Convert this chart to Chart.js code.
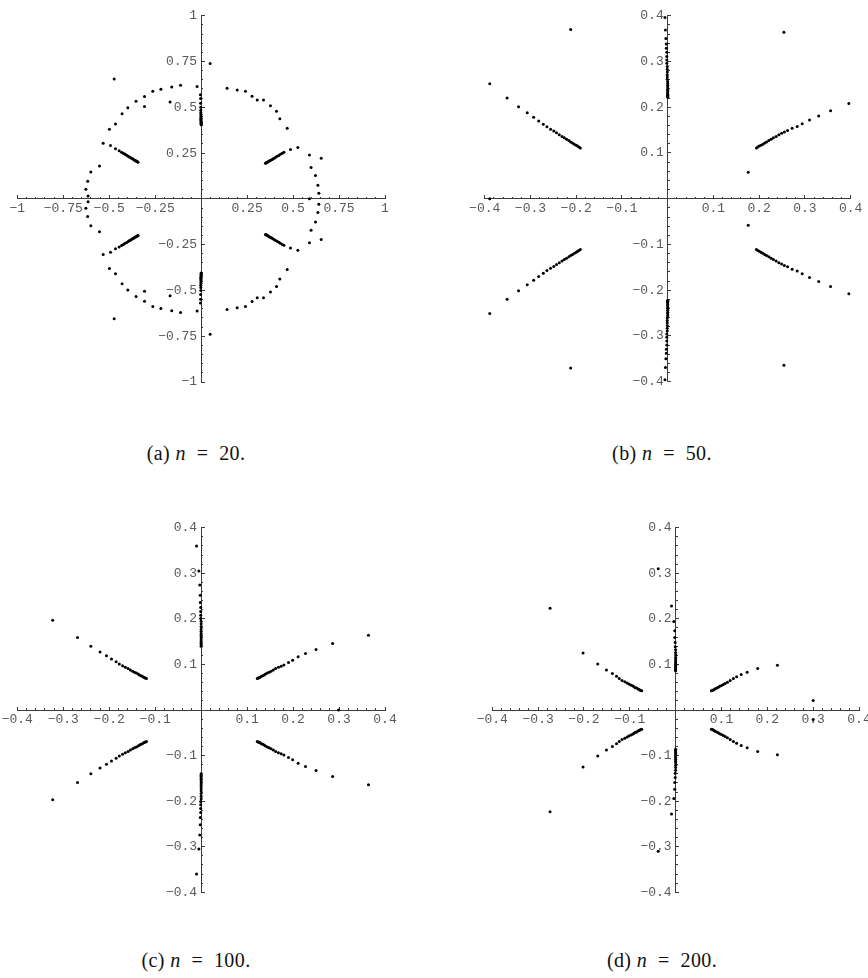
<!DOCTYPE html>
<html>
<head>
<meta charset="utf-8">
<script src="https://cdn.jsdelivr.net/npm/chart.js@4.4.1/dist/chart.umd.min.js"></script>
<style>
  body { margin: 0; background: #fff; }
  #page { position: relative; width: 868px; height: 978px; overflow: hidden; background: #fff; }
  canvas { position: absolute; }
  .caption { position: absolute; font-family: "Liberation Serif", "Times New Roman", serif; font-size: 20px; line-height: 20px; letter-spacing: 0.4px; color: #111; white-space: pre; transform: translateX(-50%); }
</style>
</head>
<body>
<div id="page">
  <canvas id="plot20" width="434" height="420" style="left:0px;top:0px"></canvas>
  <canvas id="plot50" width="434" height="420" style="left:434px;top:0px"></canvas>
  <canvas id="plot100" width="434" height="440" style="left:0px;top:480px"></canvas>
  <canvas id="plot200" width="434" height="440" style="left:434px;top:480px"></canvas>
  <div class="caption" style="left:196px;top:443px">(a) <i>n</i>  =  20.</div>
  <div class="caption" style="left:662px;top:443px">(b) <i>n</i>  =  50.</div>
  <div class="caption" style="left:196px;top:950px">(c) <i>n</i>  =  100.</div>
  <div class="caption" style="left:662px;top:950px">(d) <i>n</i>  =  200.</div>
</div>
<script>
/* tick labels of the axes */
const ticksN20 = [-1, -0.75, -0.5, -0.25, 0, 0.25, 0.5, 0.75, 1];
const ticksSmall = [-0.4, -0.3, -0.2, -0.1, 0, 0.1, 0.2, 0.3, 0.4];

const n20Upper = [
  [0.049,0.739],[-0.473,0.655],[-0.263,0.588],[-0.219,0.599],[-0.160,0.611],[-0.112,0.620],[-0.022,0.613],
  [-0.169,0.529],[-0.308,0.559],[-0.308,0.504],[-0.354,0.533],[-0.399,0.498],[-0.430,0.464],[-0.466,0.409],
  [-0.499,0.380],[-0.533,0.304],[-0.493,0.291],[-0.466,0.273],[-0.553,0.180],[-0.600,0.147],[-0.617,0.096],
  [-0.627,0.052],[-0.615,0.016],
  [0.141,0.604],[0.196,0.595],[0.241,0.588],[0.277,0.560],[0.305,0.540],[0.339,0.540],[0.377,0.508],
  [0.410,0.478],[0.428,0.438],[0.468,0.386],[0.526,0.280],[0.486,0.269],[0.450,0.254],[0.589,0.240],
  [0.653,0.222],[0.598,0.171],[0.622,0.127],[0.635,0.074],[0.640,0.030],[0.589,0.000],
  [-0.004,0.568],[-0.003,0.548],[-0.003,0.522],[-0.002,0.500],[-0.002,0.484],[-0.002,0.472],[-0.001,0.462],
  [-0.001,0.454],[-0.001,0.447],[-0.001,0.440],[-0.001,0.434],[-0.001,0.428],[0,0.423],[0,0.418],[0,0.413],
  [0,0.409],[0,0.405],
  [0.350,0.194],[0.353,0.196],[0.356,0.198],[0.360,0.200],[0.364,0.202],[0.368,0.205],[0.373,0.208],
  [0.378,0.211],[0.384,0.214],[0.390,0.218],[0.397,0.222],[0.405,0.227],[0.413,0.232],[0.422,0.237],
  [0.431,0.243],[0.441,0.249],
  [-0.343,0.200],[-0.346,0.202],[-0.349,0.204],[-0.353,0.206],[-0.357,0.208],[-0.361,0.211],[-0.366,0.214],
  [-0.371,0.217],[-0.377,0.220],[-0.383,0.224],[-0.390,0.228],[-0.397,0.233],[-0.405,0.238],[-0.414,0.243],
  [-0.423,0.249],[-0.433,0.255],[-0.446,0.263]
];
const n20Lower = [
  [0.049,-0.739],[-0.473,-0.655],[-0.263,-0.588],[-0.219,-0.599],[-0.160,-0.611],[-0.112,-0.620],[-0.022,-0.613],
  [-0.169,-0.529],[-0.308,-0.559],[-0.308,-0.504],[-0.354,-0.533],[-0.399,-0.498],[-0.430,-0.464],[-0.466,-0.409],
  [-0.499,-0.380],[-0.533,-0.304],[-0.493,-0.291],[-0.466,-0.273],[-0.553,-0.180],[-0.600,-0.147],[-0.617,-0.096],
  [-0.627,-0.052],[-0.615,-0.016],
  [0.141,-0.604],[0.196,-0.595],[0.241,-0.588],[0.277,-0.560],[0.305,-0.540],[0.339,-0.540],[0.377,-0.508],
  [0.410,-0.478],[0.428,-0.438],[0.468,-0.386],[0.526,-0.280],[0.486,-0.269],[0.450,-0.254],[0.589,-0.240],
  [0.653,-0.222],[0.598,-0.171],[0.622,-0.127],[0.635,-0.074],[0.640,-0.030],
  [-0.004,-0.568],[-0.003,-0.548],[-0.003,-0.522],[-0.002,-0.500],[-0.002,-0.484],[-0.002,-0.472],[-0.001,-0.462],
  [-0.001,-0.454],[-0.001,-0.447],[-0.001,-0.440],[-0.001,-0.434],[-0.001,-0.428],[0,-0.423],[0,-0.418],[0,-0.413],
  [0,-0.409],[0,-0.405],
  [0.350,-0.194],[0.353,-0.196],[0.356,-0.198],[0.360,-0.200],[0.364,-0.202],[0.368,-0.205],[0.373,-0.208],
  [0.378,-0.211],[0.384,-0.214],[0.390,-0.218],[0.397,-0.222],[0.405,-0.227],[0.413,-0.232],[0.422,-0.237],
  [0.431,-0.243],[0.441,-0.249],
  [-0.343,-0.200],[-0.346,-0.202],[-0.349,-0.204],[-0.353,-0.206],[-0.357,-0.208],[-0.361,-0.211],[-0.366,-0.214],
  [-0.371,-0.217],[-0.377,-0.220],[-0.383,-0.224],[-0.390,-0.228],[-0.397,-0.233],[-0.405,-0.238],[-0.414,-0.243],
  [-0.423,-0.249],[-0.433,-0.255],[-0.446,-0.263]
];

/* n = 50 */
const n50Upper = [
  [-0.212,0.370],[0.254,0.364],[-0.389,0.251],[-0.351,0.220],[-0.326,0.201],[-0.307,0.188],[-0.293,0.178],
  [-0.282,0.170],[-0.272,0.163],[-0.264,0.157],[0.396,0.208],[0.356,0.192],[0.330,0.181],[0.310,0.172],
  [0.294,0.164],[0.283,0.158],[0.272,0.154],[0.176,0.058],[-0.389,0.000],
  [-0.191,0.111],[-0.194,0.113],[-0.197,0.115],[-0.200,0.117],[-0.204,0.119],[-0.208,0.122],[-0.212,0.124],
  [-0.216,0.127],[-0.221,0.130],[-0.226,0.133],[-0.231,0.136],[-0.237,0.140],[-0.243,0.144],[-0.249,0.148],
  [-0.256,0.152],
  [0.194,0.111],[0.197,0.113],[0.200,0.115],[0.204,0.117],[0.208,0.119],[0.212,0.122],[0.216,0.124],
  [0.221,0.127],[0.226,0.130],[0.231,0.133],[0.237,0.136],[0.243,0.140],[0.249,0.143],[0.255,0.146],
  [0.262,0.149],
  [-0.006,0.396],[-0.005,0.369],[-0.004,0.350],[-0.003,0.338],[-0.003,0.329],[-0.002,0.320],[-0.002,0.311],
  [-0.002,0.303],[-0.002,0.296],[-0.001,0.289],[-0.001,0.283],[-0.001,0.277],[-0.001,0.271],[-0.001,0.266],
  [-0.001,0.261],[0,0.256],[0,0.252],[0,0.248],[0,0.244],[0,0.240],[0,0.237],[0,0.234],[0,0.231],[0,0.228],
  [0,0.226],[0,0.224],[0,0.222]
];
const n50Lower = [
  [-0.212,-0.370],[0.254,-0.364],[-0.389,-0.251],[-0.351,-0.220],[-0.326,-0.201],[-0.307,-0.188],[-0.293,-0.178],
  [-0.282,-0.170],[-0.272,-0.163],[-0.264,-0.157],[0.396,-0.208],[0.356,-0.192],[0.330,-0.181],[0.310,-0.172],
  [0.294,-0.164],[0.283,-0.158],[0.272,-0.154],[0.176,-0.058],
  [-0.191,-0.111],[-0.194,-0.113],[-0.197,-0.115],[-0.200,-0.117],[-0.204,-0.119],[-0.208,-0.122],[-0.212,-0.124],
  [-0.216,-0.127],[-0.221,-0.130],[-0.226,-0.133],[-0.231,-0.136],[-0.237,-0.140],[-0.243,-0.144],[-0.249,-0.148],
  [-0.256,-0.152],
  [0.194,-0.111],[0.197,-0.113],[0.200,-0.115],[0.204,-0.117],[0.208,-0.119],[0.212,-0.122],[0.216,-0.124],
  [0.221,-0.127],[0.226,-0.130],[0.231,-0.133],[0.237,-0.136],[0.243,-0.140],[0.249,-0.143],[0.255,-0.146],
  [0.262,-0.149],
  [-0.006,-0.396],[-0.005,-0.369],[-0.004,-0.350],[-0.003,-0.338],[-0.003,-0.329],[-0.002,-0.320],[-0.002,-0.311],
  [-0.002,-0.303],[-0.002,-0.296],[-0.001,-0.289],[-0.001,-0.283],[-0.001,-0.277],[-0.001,-0.271],[-0.001,-0.266],
  [-0.001,-0.261],[0,-0.256],[0,-0.252],[0,-0.248],[0,-0.244],[0,-0.240],[0,-0.237],[0,-0.234],[0,-0.231],[0,-0.228],
  [0,-0.226],[0,-0.224],[0,-0.222]
];

/* n = 100 */
const n100Upper = [
  [-0.323,0.197],[-0.269,0.159],[-0.240,0.140],[-0.220,0.127],[-0.206,0.119],[-0.195,0.112],[-0.185,0.106],
  [0.364,0.164],[0.286,0.146],[0.250,0.133],[0.227,0.124],[0.211,0.117],[0.199,0.109],[0.190,0.104],[0.299,0.000],
  [-0.010,0.360],[-0.005,0.305],[-0.003,0.274],[-0.002,0.252],[-0.002,0.236],[-0.001,0.225],[-0.001,0.216],
  [-0.001,0.208],[-0.001,0.201],[0,0.195],[0,0.189],[0,0.183],[0,0.178],[0,0.173],[0,0.168],[0,0.164],[0,0.160],
  [0,0.156],[0,0.152],[0,0.149],[0,0.146],[0,0.143],[0,0.140],
  [-0.119,0.069],[-0.121,0.070],[-0.123,0.071],[-0.125,0.072],[-0.128,0.074],[-0.131,0.075],[-0.134,0.077],
  [-0.137,0.079],[-0.141,0.081],[-0.145,0.083],[-0.149,0.085],[-0.154,0.088],[-0.159,0.091],[-0.165,0.094],
  [-0.171,0.097],[-0.178,0.101],
  [0.122,0.069],[0.124,0.070],[0.126,0.071],[0.128,0.072],[0.131,0.074],[0.134,0.075],[0.137,0.077],
  [0.140,0.079],[0.144,0.081],[0.148,0.083],[0.152,0.085],[0.157,0.088],[0.162,0.091],[0.168,0.094],
  [0.174,0.096],[0.180,0.099]
];
const n100Lower = [
  [-0.323,-0.197],[-0.269,-0.159],[-0.240,-0.140],[-0.220,-0.127],[-0.206,-0.119],[-0.195,-0.112],[-0.185,-0.106],
  [0.364,-0.164],[0.286,-0.146],[0.250,-0.133],[0.227,-0.124],[0.211,-0.117],[0.199,-0.109],[0.190,-0.104],
  [-0.010,-0.360],[-0.005,-0.305],[-0.003,-0.274],[-0.002,-0.252],[-0.002,-0.236],[-0.001,-0.225],[-0.001,-0.216],
  [-0.001,-0.208],[-0.001,-0.201],[0,-0.195],[0,-0.189],[0,-0.183],[0,-0.178],[0,-0.173],[0,-0.168],[0,-0.164],
  [0,-0.160],[0,-0.156],[0,-0.152],[0,-0.149],[0,-0.146],[0,-0.143],[0,-0.140],
  [-0.119,-0.069],[-0.121,-0.070],[-0.123,-0.071],[-0.125,-0.072],[-0.128,-0.074],[-0.131,-0.075],[-0.134,-0.077],
  [-0.137,-0.079],[-0.141,-0.081],[-0.145,-0.083],[-0.149,-0.085],[-0.154,-0.088],[-0.159,-0.091],[-0.165,-0.094],
  [-0.171,-0.097],[-0.178,-0.101],
  [0.122,-0.069],[0.124,-0.070],[0.126,-0.071],[0.128,-0.072],[0.131,-0.074],[0.134,-0.075],[0.137,-0.077],
  [0.140,-0.079],[0.144,-0.081],[0.148,-0.083],[0.152,-0.085],[0.157,-0.088],[0.162,-0.091],[0.168,-0.094],
  [0.174,-0.096],[0.180,-0.099]
];

/* n = 200 */
const n200Upper = [
  [-0.274,0.223],[-0.202,0.125],[-0.170,0.101],[-0.151,0.088],[-0.138,0.080],[-0.129,0.074],
  [0.300,0.021],[0.222,0.098],[0.179,0.091],[0.156,0.083],[0.143,0.078],[0.133,0.073],
  [-0.038,0.310],[-0.009,0.228],[-0.004,0.194],[-0.002,0.174],[-0.002,0.159],[-0.001,0.148],[-0.001,0.139],
  [0,0.132],[0,0.126],[0,0.121],[0,0.116],[0,0.112],[0,0.108],[0,0.104],[0,0.101],[0,0.098],[0,0.095],
  [0,0.092],[0,0.090],[0,0.088],[0,0.086],
  [-0.074,0.042],[-0.076,0.043],[-0.078,0.044],[-0.080,0.045],[-0.082,0.046],[-0.085,0.048],[-0.088,0.049],
  [-0.091,0.051],[-0.094,0.053],[-0.098,0.055],[-0.102,0.057],[-0.106,0.059],[-0.111,0.062],[-0.117,0.065],
  [-0.123,0.069],
  [0.078,0.042],[0.080,0.043],[0.082,0.044],[0.084,0.045],[0.087,0.047],[0.090,0.048],[0.093,0.050],
  [0.096,0.052],[0.100,0.054],[0.104,0.056],[0.108,0.058],[0.113,0.061],[0.119,0.065],[0.126,0.069]
];
const n200Lower = [
  [-0.274,-0.223],[-0.202,-0.125],[-0.170,-0.101],[-0.151,-0.088],[-0.138,-0.080],[-0.129,-0.074],
  [0.300,-0.021],[0.222,-0.098],[0.179,-0.091],[0.156,-0.083],[0.143,-0.078],[0.133,-0.073],
  [-0.038,-0.310],[-0.009,-0.228],[-0.004,-0.194],[-0.002,-0.174],[-0.002,-0.159],[-0.001,-0.148],[-0.001,-0.139],
  [0,-0.132],[0,-0.126],[0,-0.121],[0,-0.116],[0,-0.112],[0,-0.108],[0,-0.104],[0,-0.101],[0,-0.098],[0,-0.095],
  [0,-0.092],[0,-0.090],[0,-0.088],[0,-0.086],
  [-0.074,-0.042],[-0.076,-0.043],[-0.078,-0.044],[-0.080,-0.045],[-0.082,-0.046],[-0.085,-0.048],[-0.088,-0.049],
  [-0.091,-0.051],[-0.094,-0.053],[-0.098,-0.055],[-0.102,-0.057],[-0.106,-0.059],[-0.111,-0.062],[-0.117,-0.065],
  [-0.123,-0.069],
  [0.078,-0.042],[0.080,-0.043],[0.082,-0.044],[0.084,-0.045],[0.087,-0.047],[0.090,-0.048],[0.093,-0.050],
  [0.096,-0.052],[0.100,-0.054],[0.104,-0.056],[0.108,-0.058],[0.113,-0.061],[0.119,-0.065],[0.126,-0.069]
];

const axisColor = '#3c3c3c';
const labelColor = '#5a5a5a';
const labelFont = { family: '"Liberation Mono", "DejaVu Sans Mono", monospace', size: 13 };

/* axes cross at the origin and take no layout room, so the
   padding alone decides where the plot box sits in the canvas */
function noRoom(scale) {
  if (scale.isHorizontal()) { scale.height = 0; } else { scale.width = 0; }
  scale.paddingLeft = scale.paddingRight = scale.paddingTop = scale.paddingBottom = 0;
}

function tickText(v) {
  if (Math.abs(v) < 1e-9) return '';
  return String(+v.toFixed(2)).replace('-', '\u2212');
}

function buildPlot(id, upper, lower, lim, majorTicks, minorStep, pad) {
  const minorTicks = [];
  const steps = Math.round(lim / minorStep);
  for (let i = -steps; i <= steps; i++) minorTicks.push(+(i * minorStep).toFixed(4));
  /* the y labels sit a few pixels left of the vertical axis */
  const labelGap = lim * 4 / 183.5;

  const axisScale = (axis, pos, ticks, len, showBorder) => ({
    type: 'linear', axis: axis, min: -lim, max: lim, position: pos,
    afterBuildTicks: s => { s.ticks = ticks.map(v => ({ value: v })); },
    afterFit: noRoom,
    grid: { drawOnChartArea: false, drawTicks: true, tickLength: len, tickColor: axisColor, tickWidth: 1 },
    border: showBorder ? { display: true, color: axisColor, width: 1 } : { display: false },
    ticks: { autoSkip: false, maxRotation: 0, minRotation: 0, callback: () => '' }
  });

  const x = axisScale('x', { y: 0 }, majorTicks, -4, true);
  x.ticks = {
    autoSkip: false, maxRotation: 0, minRotation: 0, padding: 6,
    color: labelColor, font: labelFont, callback: tickText
  };
  const yLabels = {
    type: 'linear', axis: 'y', min: -lim, max: lim, position: { x: -labelGap },
    afterBuildTicks: s => { s.ticks = majorTicks.map(v => ({ value: v })); },
    afterFit: noRoom,
    grid: { display: false },
    border: { display: false },
    ticks: { autoSkip: false, color: labelColor, font: labelFont, callback: tickText }
  };

  return new Chart(document.getElementById(id), {
    type: 'scatter',
    data: {
      datasets: [{
        data: upper.concat(lower).map(p => ({ x: p[0], y: p[1] })),
        xAxisID: 'x',
        yAxisID: 'y',
        pointRadius: 1.5,
        pointBackgroundColor: '#000',
        pointBorderWidth: 0,
        pointHoverRadius: 1.5
      }]
    },
    options: {
      responsive: false,
      animation: false,
      devicePixelRatio: 1,
      layout: { padding: pad },
      plugins: { legend: { display: false }, tooltip: { enabled: false } },
      events: [],
      scales: {
        x: x,
        y: axisScale('y', { x: 0 }, majorTicks, -4, true),
        xMinor: axisScale('x', { y: 0 }, minorTicks, -2, false),
        yMinor: axisScale('y', { x: 0 }, minorTicks, -2, false),
        yLabels: yLabels
      }
    }
  });
}

buildPlot('plot20', n20Upper, n20Lower, 1, ticksN20, 0.05, { left: 17.3, right: 49, top: 15.7, bottom: 38 });
buildPlot('plot50', n50Upper, n50Lower, 0.4, ticksSmall, 0.02, { left: 50.7, right: 17.3, top: 15.7, bottom: 38.3 });
buildPlot('plot100', n100Upper, n100Lower, 0.4, ticksSmall, 0.02, { left: 17.3, right: 49, top: 47.7, bottom: 27.7 });
buildPlot('plot200', n200Upper, n200Lower, 0.4, ticksSmall, 0.02, { left: 58.3, right: 9, top: 47.7, bottom: 27.7 });
</script>
</body>
</html>
